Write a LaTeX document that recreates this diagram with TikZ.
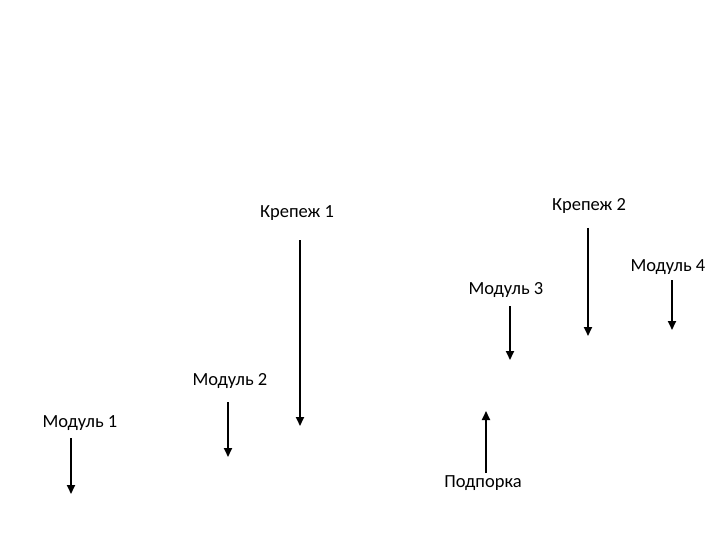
\documentclass[tikz,border=0pt]{standalone}
\usepackage{fontspec}
\setmainfont{Carlito}
\usetikzlibrary{arrows.meta}
\begin{document}
\begin{tikzpicture}[x=1pt,y=-1pt,
  lbl/.style={inner sep=0pt,font=\fontsize{18.5}{22}\selectfont},
  arr/.style={line width=1.8pt,-{Triangle[length=9pt,width=8pt]}}]
\useasboundingbox (0,0) rectangle (720,540);
\node[lbl] (k1) at (297,213) {Крепеж 1};
\node[lbl] (k2) at (589,206) {Крепеж 2};
\node[lbl] (m4) at (668,267) {Модуль 4};
\node[lbl] (m3) at (506,290) {Модуль 3};
\node[lbl] (m2) at (230,381) {Модуль 2};
\node[lbl] (m1) at (80,423) {Модуль 1};
\node[lbl] (p) at (483,483) {Подпорка};
\coordinate (k1a) at (300,240); \coordinate (k1b) at (300,426);
\coordinate (k2a) at (588,228); \coordinate (k2b) at (588,336);
\coordinate (m4a) at (672,280); \coordinate (m4b) at (672,330);
\coordinate (m3a) at (510,306); \coordinate (m3b) at (510,360);
\coordinate (m2a) at (228,402); \coordinate (m2b) at (228,457);
\coordinate (m1a) at (71,438); \coordinate (m1b) at (71,494);
\coordinate (pa) at (486,473); \coordinate (pb) at (486,411);
\draw[arr] (k1a) -- (k1b);
\draw[arr] (k2a) -- (k2b);
\draw[arr] (m4a) -- (m4b);
\draw[arr] (m3a) -- (m3b);
\draw[arr] (m2a) -- (m2b);
\draw[arr] (m1a) -- (m1b);
\draw[arr] (pa) -- (pb);
\end{tikzpicture}
\end{document}
